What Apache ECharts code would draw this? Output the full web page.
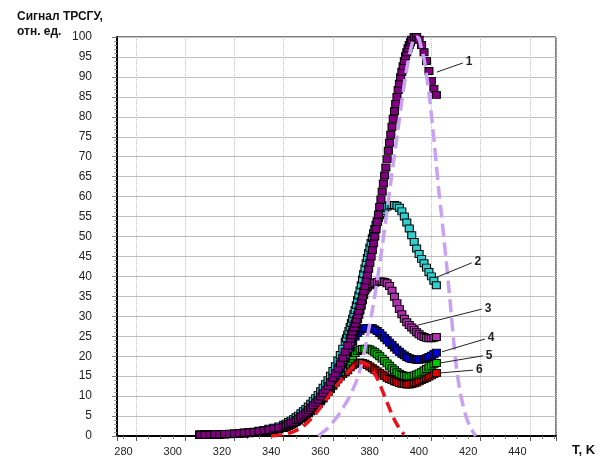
<!DOCTYPE html>
<html>
<head>
<meta charset="utf-8">
<script src="https://cdn.jsdelivr.net/npm/echarts@6/dist/echarts.min.js"></script>
<style>
  html, body { margin: 0; padding: 0; background: #fff; }
  #chart { width: 601px; height: 459px; }
</style>
</head>
<body>
<div id="chart"></div>
<script>
// Temperatures (K) of the measured points, one list per curve:
// the steep parts were sampled more densely.
const temperature1 = [
  306, 308, 310, 312, 314, 316, 318, 320, 322, 324, 326, 328, 330, 332, 334, 336, 338,
  340, 341, 342, 343, 344, 345, 346, 347, 348, 349,
  350, 351, 352, 353, 354, 355, 356, 357, 358, 359,
  360, 361, 362, 363, 364, 365, 366, 367,
  367.5, 368, 368.5, 369, 369.5, 370, 370.5, 371, 371.5, 372, 372.5, 373, 373.5, 374, 374.5,
  375, 375.5, 376, 376.5, 377, 377.5, 378, 378.5, 379, 379.5, 380, 380.5, 381, 381.5, 382,
  382.5, 383, 383.5, 384, 384.5, 385, 385.5, 386, 386.5, 387, 387.5, 388, 388.5, 389, 389.5,
  390, 390.5, 391, 391.5, 392,
  393, 394, 395, 396, 397, 398, 399, 400, 401, 402
];
const temperature2 = [
  306, 308, 310, 312, 314, 316, 318, 320, 322, 324, 326, 328, 330, 332, 334, 336, 338,
  340, 341, 342, 343, 344, 345, 346, 347, 348, 349,
  350, 351, 352, 353, 354, 355, 356, 357, 358, 359,
  360, 361, 362, 363, 364, 365,
  365.5, 366, 366.5, 367, 367.5, 368, 368.5, 369, 369.5, 370, 370.5, 371, 371.5, 372, 372.5,
  373, 373.5, 374, 374.5, 375, 375.5, 376, 376.5, 377, 377.5, 378, 378.5, 379, 379.5, 380,
  381, 382, 383, 384, 385, 386, 387, 388, 389, 390, 391, 392, 393, 394, 395, 396, 397, 398,
  399, 400, 401, 402
];
const temperature3 = [
  306, 308, 310, 312, 314, 316, 318, 320, 322, 324, 326, 328, 330, 332, 334, 336, 338,
  340, 341, 342, 343, 344, 345, 346, 347, 348, 349,
  350, 351, 352, 353, 354, 355, 356, 357, 358, 359,
  360, 361, 362, 363,
  363.5, 364, 364.5, 365, 365.5, 366, 366.5, 367, 367.5, 368, 368.5, 369, 369.5, 370, 370.5,
  371, 371.5, 372, 372.5, 373, 373.5, 374,
  375, 376, 377, 378, 379, 380, 381, 382, 383, 384, 385, 386, 387, 388, 389, 390, 391, 392,
  393, 394, 395, 396, 397, 398, 399, 400, 401, 402
];
const temperature = [
  306, 308, 310, 312, 314, 316, 318, 320, 322, 324, 326, 328, 330, 332, 334, 336, 338,
  340, 341, 342, 343, 344, 345, 346, 347, 348, 349,
  350, 351, 352, 353, 354, 355, 356, 357, 358, 359,
  360, 361, 362, 363, 364, 365, 366, 367, 368, 369,
  370, 371, 372, 373, 374, 375, 376, 377, 378, 379,
  380, 381, 382, 383, 384, 385, 386, 387, 388, 389,
  390, 391, 392, 393, 394, 395, 396, 397, 398, 399,
  400, 401, 402
];

// Measured signals, relative units
const signal1 = [
  0.3, 0.3, 0.3, 0.4, 0.4, 0.5, 0.5, 0.6, 0.7, 0.8, 0.9, 1.0, 1.2, 1.4, 1.6, 1.9, 2.1,
  2.4, 2.7, 3.0, 3.3, 3.6, 4.0, 4.4, 4.9, 5.4, 5.9,
  6.5, 7.1, 7.7, 8.4, 9.1, 9.9, 10.7, 11.6, 12.5, 13.5,
  14.6, 15.7, 16.9, 18.2, 19.6, 21.1, 22.7, 24.4,
  25.3, 26.2, 27.2, 28.2, 29.2, 30.3, 31.4, 32.6, 33.8, 35.0, 36.3, 37.6, 39.0, 40.4, 41.9,
  43.4, 45.0, 46.6, 48.3, 50.0, 51.8, 53.6, 55.5, 57.4, 59.3, 61.3, 63.3, 65.3, 67.3, 69.4,
  71.5, 73.5, 75.5, 77.5, 79.5, 81.4, 83.2, 85.0, 86.7, 88.3, 89.9, 91.3, 92.7, 94.0, 95.2,
  96.2, 97.2, 98.0, 98.7, 99.3,
  100.0, 100.0, 99.3, 98.0, 96.2, 94.0, 91.5, 89.0, 87.0, 85.5
];
const signal2 = [
  0.3, 0.3, 0.3, 0.4, 0.4, 0.5, 0.6, 0.6, 0.7, 0.8, 0.9, 1.1, 1.3, 1.5, 1.8, 2.1, 2.4,
  2.8, 3.1, 3.5, 3.8, 4.2, 4.7, 5.1, 5.7, 6.2, 6.8,
  7.4, 8.1, 8.8, 9.5, 10.3, 11.2, 12.1, 13.0, 14.0, 15.1,
  16.3, 17.5, 18.9, 20.3, 21.9, 23.6,
  24.5, 25.4, 26.3, 27.3, 28.3, 29.4, 30.5, 31.6, 32.8, 34.0, 35.2, 36.5, 37.8, 39.2, 40.6,
  42.0, 43.3, 44.6, 45.9, 47.2, 48.4, 49.6, 50.8, 51.9, 52.9, 53.8, 54.6, 55.3, 55.9, 56.4,
  57.1, 57.5, 57.8, 57.9, 57.9, 57.7, 57.2, 56.3, 55.0, 53.5, 52.0, 50.3, 48.6, 47.0, 45.6, 44.4, 43.3, 42.2,
  41.1, 40.0, 38.9, 37.8
];
const signal3 = [
  0.3, 0.3, 0.3, 0.4, 0.4, 0.5, 0.5, 0.6, 0.7, 0.8, 0.9, 1.0, 1.2, 1.4, 1.6, 1.8, 2.0,
  2.3, 2.6, 2.9, 3.2, 3.5, 3.9, 4.3, 4.7, 5.2, 5.7,
  6.3, 6.9, 7.5, 8.2, 8.9, 9.6, 10.4, 11.3, 12.2, 13.2,
  14.2, 15.3, 16.5, 17.7,
  18.3, 19.0, 19.7, 20.4, 21.1, 21.9, 22.7, 23.5, 24.4, 25.3, 26.2, 27.2, 28.2, 29.3, 30.4,
  31.5, 32.7, 34.0, 35.3, 36.5, 37.0, 37.4,
  37.8, 38.1, 38.4, 38.6, 38.7, 38.7, 38.6, 38.3, 37.6, 36.4, 34.9, 33.3, 31.8, 30.5, 29.4, 28.5, 27.8, 27.2,
  26.6, 26.0, 25.5, 25.1, 24.8, 24.6, 24.5, 24.5, 24.6, 24.8
];
const signal4 = [
  0.3, 0.3, 0.3, 0.3, 0.4, 0.4, 0.5, 0.6, 0.6, 0.7, 0.8, 1.0, 1.1, 1.3, 1.5, 1.7, 1.9,
  2.2, 2.5, 2.8, 3.1, 3.4, 3.8, 4.2, 4.6, 5.0, 5.5,
  6.0, 6.6, 7.2, 7.8, 8.5, 9.2, 10.0, 10.8, 11.7, 12.6,
  13.6, 14.6, 15.7, 16.9, 18.1, 19.4, 20.8, 22.2, 23.6, 24.9,
  25.8, 26.4, 26.8, 27.0, 27.1, 27.1, 27.0, 26.7, 26.3, 25.8,
  25.2, 24.6, 24.0, 23.4, 22.8, 22.2, 21.6, 21.1, 20.6, 20.2,
  19.8, 19.5, 19.3, 19.2, 19.1, 19.1, 19.2, 19.3, 19.5, 19.8,
  20.1, 20.5, 20.9
];
const signal5 = [
  0.3, 0.3, 0.3, 0.3, 0.4, 0.4, 0.5, 0.5, 0.6, 0.7, 0.8, 0.9, 1.1, 1.2, 1.4, 1.6, 1.8,
  2.1, 2.4, 2.7, 3.0, 3.3, 3.7, 4.1, 4.5, 4.9, 5.4,
  5.9, 6.4, 7.0, 7.6, 8.3, 9.0, 9.7, 10.5, 11.3, 12.2,
  13.1, 14.0, 15.0, 16.0, 17.0, 17.9, 18.7, 19.4, 20.0, 20.8,
  21.3, 21.6, 21.8, 21.9, 21.9, 21.7, 21.4, 21.0, 20.5, 20.0,
  19.4, 18.8, 18.2, 17.6, 17.0, 16.5, 16.0, 15.6, 15.3, 15.1,
  15.0, 14.9, 15.0, 15.2, 15.4, 15.7, 16.0, 16.4, 16.8, 17.2,
  17.6, 18.0, 18.3
];
const signal6 = [
  0.3, 0.3, 0.3, 0.3, 0.3, 0.4, 0.4, 0.5, 0.6, 0.6, 0.7, 0.8, 1.0, 1.1, 1.3, 1.5, 1.7,
  2.0, 2.2, 2.5, 2.8, 3.1, 3.5, 3.9, 4.3, 4.7, 5.2,
  5.7, 6.2, 6.8, 7.4, 8.0, 8.7, 9.4, 10.2, 11.0, 11.8,
  12.6, 13.4, 14.2, 14.9, 15.5, 16.0, 16.5, 17.2, 17.7, 18.1,
  18.3, 18.4, 18.3, 18.1, 17.8, 17.4, 17.0, 16.6, 16.2, 15.8,
  15.4, 15.0, 14.6, 14.3, 14.0, 13.7, 13.5, 13.3, 13.1, 13.0,
  12.9, 12.9, 13.0, 13.2, 13.4, 13.7, 14.0, 14.3, 14.6, 14.9,
  15.2, 15.5, 15.8
];

// Model peaks (dashed curves)
const modelHighT = [
  354, 356, 358, 360, 362, 364, 366, 368, 370, 372, 374, 376, 378, 380, 382, 384, 386, 388, 390,
  392, 393, 394, 395, 396, 397, 398, 399, 400, 401, 402, 403, 404, 405, 406, 407, 408, 409, 410,
  411, 412, 414, 416, 418
];
const modelHighV = [
  0, 1, 2, 3.5, 5, 7, 9, 11.5, 14.5, 19, 25, 31.5, 39, 47.5, 56.5, 66, 75, 84, 92,
  98, 99.5, 100, 99.5, 97, 94.5, 90.5, 86, 80.5, 74.5, 68, 61.5, 56, 50, 44, 37.5, 31, 24, 18,
  13.5, 10, 5, 2, 0
];
const modelLowT = [
  335, 338, 341, 344, 347, 350, 353, 356, 359, 362, 365, 368, 370, 372, 374, 376, 378, 380,
  382, 384, 386, 388, 389
];
const modelLowV = [
  0, 0.2, 0.5, 1.1, 2.0, 3.6, 5.6, 8.0, 10.6, 13.0, 15.3, 17.2, 18.1, 18.4, 17.9, 16.6, 14.4, 11.5,
  8.4, 5.4, 2.9, 1.0, 0.4
];

// Curve numbers and their leader lines, [T, signal]
const curveNames = ['1', '2', '3', '4', '5', '6'];
const leaderFrom = [[402.2, 91.2], [402.2, 39.8], [393.3, 27.6], [404.3, 21.1], [403.5, 18.3], [403.5, 15.8]];
const leaderTo   = [[412.8, 93.5], [416.4, 43.4], [420.5, 31.8], [421.7, 24.3], [420.9, 20.1], [416.9, 16.5]];

const temps = [temperature1, temperature2, temperature3, temperature, temperature, temperature];
const signals = [signal1, signal2, signal3, signal4, signal5, signal6];
const fills = ['#800080', '#30d0d0', '#b030b0', '#0000e0', '#00c800', '#e00000'];

const FONT = '"Liberation Sans", Arial, sans-serif';

function pairs(xs, ys) {
  return xs.map((x, i) => [x, ys[i]]);
}

// Draw curve 6 first so that curve 1 ends up on top
const scatterSeries = [];
for (let k = signals.length - 1; k >= 0; k--) {
  scatterSeries.push({
    type: 'scatter',
    name: curveNames[k],
    data: pairs(temps[k], signals[k]),
    symbol: 'rect',
    symbolSize: [8, 7],
    itemStyle: { color: fills[k], borderColor: '#000', borderWidth: 1, opacity: 1 },
    z: 2,
    markLine: {
      silent: true,
      animation: false,
      symbol: ['none', 'none'],
      lineStyle: { color: '#222', width: 1, type: 'solid' },
      label: {
        show: true, position: 'end', formatter: curveNames[k], distance: 3,
        color: '#222', fontSize: 12, fontWeight: 'bold', fontFamily: FONT
      },
      data: [[{ coord: leaderFrom[k] }, { coord: leaderTo[k] }]]
    }
  });
}

const chart = echarts.init(document.getElementById('chart'), null, { renderer: 'canvas' });
chart.setOption({
  animation: false,
  backgroundColor: '#fff',
  title: {
    text: 'Сигнал ТРСГУ,\nотн. ед.',
    left: 12, top: 4,
    textStyle: { fontFamily: FONT, fontSize: 12, fontWeight: 'bold', color: '#111', lineHeight: 15 }
  },
  grid: {
    left: 117, right: 45, top: 37, bottom: 23,
    show: true, borderColor: '#000', borderWidth: 1, backgroundColor: 'transparent'
  },
  xAxis: {
    type: 'value',
    min: 272.3, max: 450.6, splitNumber: 9,
    name: 'T, K', nameLocation: 'end', nameGap: 16,
    nameTextStyle: { fontFamily: FONT, fontSize: 13, fontWeight: 'bold', color: '#111', verticalAlign: 'top', padding: [8, 0, 0, 0] },
    axisLine: { onZero: false, lineStyle: { color: '#000', width: 2 } },
    axisTick: { show: true, length: 5, lineStyle: { color: '#555' } },
    minorTick: { show: true, splitNumber: 4, length: 3, lineStyle: { color: '#777' } },
    axisLabel: {
      fontFamily: FONT, fontSize: 11, color: '#222', margin: 10,
      padding: [0, 25, 0, 0],
      showMinLabel: false, showMaxLabel: false,
      formatter: v => (Math.abs(v % 20) < 1e-6 ? String(v) : '')
    },
    splitLine: { show: true, lineStyle: { color: '#c4c4c4', type: 'dotted', width: 1 } }
  },
  yAxis: {
    type: 'value',
    min: 0, max: 100, interval: 5,
    axisLine: { lineStyle: { color: '#000', width: 2 } },
    axisTick: { show: true, length: 5, lineStyle: { color: '#777' } },
    minorTick: { show: true, splitNumber: 5, length: 3, lineStyle: { color: '#999' } },
    axisLabel: { fontFamily: FONT, fontSize: 12, color: '#222', margin: 25 },
    splitLine: { show: true, lineStyle: { color: '#c0c0c0', width: 1 } }
  },
  series: scatterSeries.concat([
    {
      type: 'line',
      data: pairs(modelHighT, modelHighV),
      showSymbol: false, smooth: 0.3, z: 4,
      lineStyle: { color: '#c8a2f2', width: 3.5, type: [13, 6] }
    },
    {
      type: 'line',
      data: pairs(modelLowT, modelLowV),
      showSymbol: false, smooth: 0.3, z: 4,
      lineStyle: { color: '#e8141c', width: 3.5, type: [11, 6] }
    }
  ])
});
</script>
</body>
</html>
